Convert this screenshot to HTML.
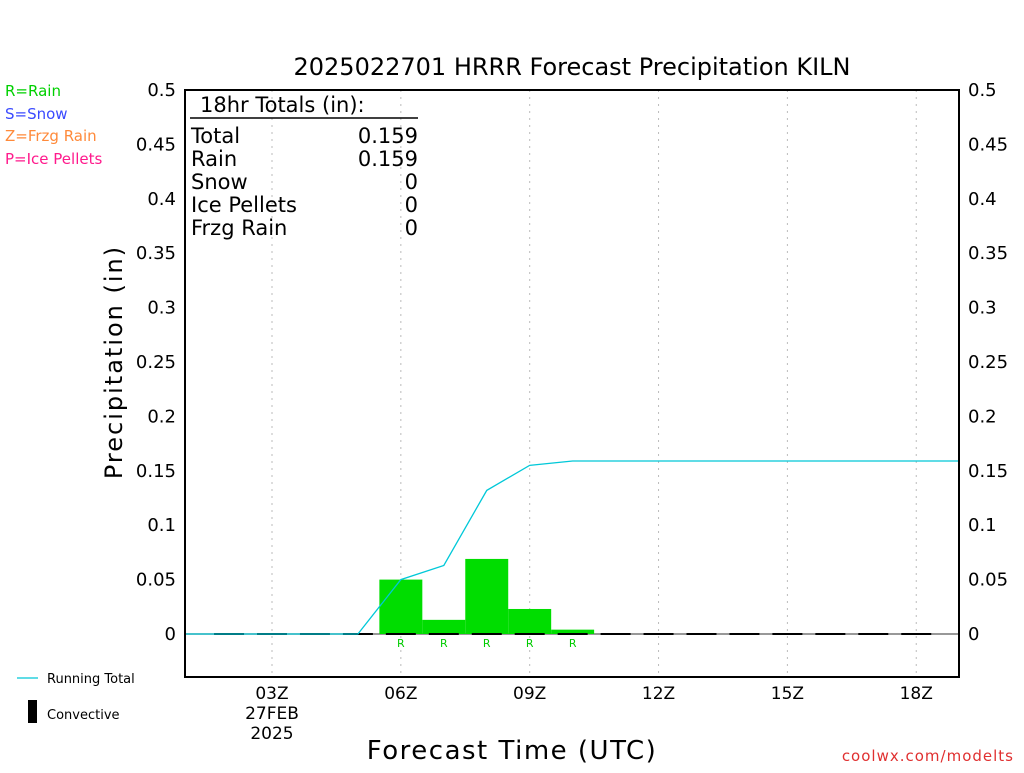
<!DOCTYPE html>
<html><head><meta charset="utf-8"><style>
body{margin:0;background:#fff;width:1024px;height:768px;overflow:hidden}
svg text{font-family:"DejaVu Sans","Liberation Sans",sans-serif}
</style></head><body>
<svg id="chart" width="1024" height="768" xmlns="http://www.w3.org/2000/svg">
<text x="572" y="75" font-size="24" text-anchor="middle" fill="#000">2025022701 HRRR Forecast Precipitation KILN</text>
<g font-size="15">
<text x="5" y="96" fill="#00d000">R=Rain</text>
<text x="5" y="119" fill="#3a4aff">S=Snow</text>
<text x="5" y="141" fill="#ff8a3a">Z=Frzg Rain</text>
<text x="5" y="164" fill="#ff1a8c">P=Ice Pellets</text>
</g>
<g id="grid"></g>
<g id="marks"></g>
<rect x="185" y="90" width="774" height="587" fill="none" stroke="#000" stroke-width="2"/>
<g id="yticks" font-size="18"></g>
<g id="xticks" font-size="17"></g>
<text transform="translate(122,362) rotate(-90)" font-size="24" text-anchor="middle" letter-spacing="2">Precipitation (in)</text>
<text x="512" y="759" font-size="26" text-anchor="middle" letter-spacing="1.5">Forecast Time (UTC)</text>
<g font-size="21" fill="#000">
<text x="200" y="112">18hr Totals (in):</text>
<line x1="190" y1="118" x2="418" y2="118" stroke="#000" stroke-width="1.5"/>
<text x="191" y="143">Total</text><text x="418" y="143" text-anchor="end">0.159</text>
<text x="191" y="166">Rain</text><text x="418" y="166" text-anchor="end">0.159</text>
<text x="191" y="189">Snow</text><text x="418" y="189" text-anchor="end">0</text>
<text x="191" y="212">Ice Pellets</text><text x="418" y="212" text-anchor="end">0</text>
<text x="191" y="235">Frzg Rain</text><text x="418" y="235" text-anchor="end">0</text>
</g>
<g font-size="13">
<line x1="17" y1="678" x2="38" y2="678" stroke="#00c8d8" stroke-width="1.2"/>
<text x="47" y="683">Running Total</text>
<rect x="28" y="700" width="9" height="23" fill="#000"/>
<text x="47" y="719">Convective</text>
</g>
<text x="1014" y="761" font-size="15" fill="#e03030" text-anchor="end" letter-spacing="1">coolwx.com/modelts</text>
</svg>
<script>
const barHours=[6,7,8,9,10];
const barValues=[0.050,0.013,0.069,0.023,0.004];
const barTypes=["R","R","R","R","R"];
const totalHours=[1,2,3,4,5,6,7,8,9,10,11,12,13,14,15,16,17,18,19];
const totalValues=[0,0,0,0,0,0.050,0.063,0.132,0.155,0.159,0.159,0.159,0.159,0.159,0.159,0.159,0.159,0.159,0.159];
const dashHours=[2,3,4,5,6,7,8,9,10,11,12,13,14,15,16,17,18];
const yTicks=[0,0.05,0.1,0.15,0.2,0.25,0.3,0.35,0.4,0.45,0.5];
const yTickLabels=["0","0.05","0.1","0.15","0.2","0.25","0.3","0.35","0.4","0.45","0.5"];
const xTickHours=[3,6,9,12,15,18];
const xTickLabels=["03Z","06Z","09Z","12Z","15Z","18Z"];
const NS="http://www.w3.org/2000/svg";
const X=h=>272+(h-3)*42.95;
const Y=v=>634-v*1088;
function mk(tag,parent,attrs){const e=document.createElementNS(NS,tag);for(const k in attrs)e.setAttribute(k,attrs[k]);parent.appendChild(e);return e;}
const grid=document.getElementById('grid'),marks=document.getElementById('marks'),yt=document.getElementById('yticks'),xt=document.getElementById('xticks');
xTickHours.forEach((h,i)=>{
 const l=mk('line',grid,{x1:X(h),x2:X(h),y1:90,y2:677,stroke:'#bbb','stroke-dasharray':'2,5'});
 
 
 const t=mk('text',xt,{x:X(h),y:699,'text-anchor':'middle'});t.textContent=xTickLabels[i];
 
 
});
[["27FEB",719],["2025",739]].forEach(([s,y])=>{const t=mk('text',xt,{x:X(3),y:y,'text-anchor':'middle'});t.textContent=s;
 
 });
yTicks.forEach((v,i)=>{
 const a=mk('text',yt,{x:176,y:Y(v)+6,'text-anchor':'end'});a.textContent=yTickLabels[i];
 
 
 const b=mk('text',yt,{x:968,y:Y(v)+6});b.textContent=yTickLabels[i];
 
 
});
const zl=mk('line',marks,{x1:186,x2:958,y1:Y(0),y2:Y(0),stroke:'#777','stroke-width':1.5});


barHours.forEach((h,i)=>{
 const r=mk('rect',marks,{x:X(h-0.5),y:Y(barValues[i]),width:42.95,height:Y(0)-Y(barValues[i]),fill:'#00dd00'});
 
 
 const t=mk('text',marks,{x:X(h),y:647,'text-anchor':'middle','font-size':11,fill:'#00cc00'});t.textContent=barTypes[i];
 
 
});
dashHours.forEach(h=>{
 const d=mk('line',marks,{x1:X(h)-15,x2:X(h)+15,y1:Y(0),y2:Y(0),stroke:'#000','stroke-width':2});
 
 
});
const pts=totalHours.map((h,i)=>X(h)+','+Y(totalValues[i])).join(' ');
const pl=mk('polyline',marks,{points:pts,fill:'none',stroke:'#00c8d8','stroke-width':1.3});


</script>
</body></html>
